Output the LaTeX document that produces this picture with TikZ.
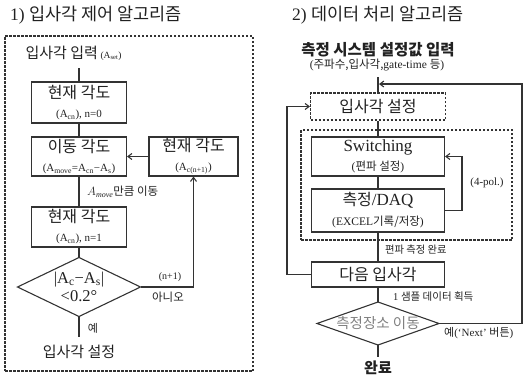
\documentclass[tikz,border=0pt]{standalone}
\usepackage{fontspec}
\setmainfont{Liberation Serif}
\newfontfamily\kr{Noto Sans CJK KR}
\usetikzlibrary{shapes.geometric,arrows.meta}
\definecolor{lc}{gray}{0.2}
\definecolor{tc}{gray}{0.13}
\newcommand\fs[1]{\fontsize{#1}{#1}\selectfont}
\begin{document}
\begin{tikzpicture}[x=1pt,y=-1pt,
  ln/.style={draw=lc, line width=1.1pt},
  arr/.style={ln, -{Straight Barb[length=4pt,width=6pt]}},
  box/.style={draw=lc, line width=1.1pt, rectangle, inner sep=0pt, align=center, text=tc,
              font=\fs{16}},
  dbox/.style={box, dash pattern=on 2.5pt off 1.5pt},
  dia/.style={diamond, draw=lc, line width=1.1pt, inner sep=0pt, outer sep=0pt},
  dtxt/.style={inner sep=0pt, align=center, text=tc},
  lbl/.style={inner sep=0pt, text=tc, font=\fs{10.5}},
  ttl/.style={inner sep=0pt, anchor=west, text=tc, font=\fs{17.5}}]
\useasboundingbox (0,0) rectangle (523,378);

% ---------- left panel ----------
\node[ttl] (t1) at (10,15) {1) {\kr 입사각 제어 알고리즘}};
\node[dbox, minimum width=248, minimum height=335] (frame1) at (129,203.5) {};
\node[lbl, anchor=west] (in1) at (22,53) {{\kr\fs{15} 입사각 입력} {\fs{9.5}(A\textsubscript{set})}};
\coordinate (c1) at (79,68);
\node[box, minimum width=95, minimum height=41] (b1) at (79,102.5)
  {{\kr 현재 각도}\\[3pt]{\fs{11}(A\textsubscript{cn}), n=0}};
\node[box, minimum width=95, minimum height=39] (b2) at (79,156.5)
  {{\kr 이동 각도}\\[3pt]{\fs{11}(A\textsubscript{move}=A\textsubscript{cn}−A\textsubscript{s})}};
\node[box, minimum width=89, minimum height=39] (b3) at (193.5,156.5)
  {{\kr 현재 각도}\\[3pt]{\fs{11}(A\textsubscript{c(n+1)})}};
\node[box, minimum width=95, minimum height=40] (b4) at (79,227)
  {{\kr 현재 각도}\\[3pt]{\fs{11}(A\textsubscript{cn}), n=1}};
\node[dia, minimum width=123, minimum height=59] (d1) at (79,287) {};
\node[dtxt, font=\fs{16.5}] (d1t) at (79,287)
  {|A\textsubscript{c}−A\textsubscript{s}|\\[2pt]<0.2°};
\coordinate (e1) at (79,337);
\node[inner sep=0pt, text=tc, font=\fs{15}\kr] (o1) at (79,352) {입사각 설정};

\draw[ln] (c1) -- (b1);
\draw[ln] (b1) -- (b2);
\draw[arr] (b3) -- (b2);
\draw[ln] (b2) -- (b4);
\draw[ln] (b4) -- (d1.north);
\draw[arr] (d1.east) -| (b3.south);
\draw[ln] (d1.south) -- (e1);

\node[lbl, anchor=west] (l1) at (87,192) {{\fs{12}$A_{\mathit{move}}$}{\kr\fs{11.5}만큼 이동}};
\node[lbl, font=\fs{10}] (l2) at (170,277) {(n+1)};
\node[lbl, font=\fs{11.5}\kr] (l3) at (168,297) {아니오};
\node[lbl, font=\fs{11}\kr] (l4) at (93,328) {예};

% ---------- right panel ----------
\node[ttl] (t2) at (292,15) {2) {\kr 데이터 처리 알고리즘}};
\node[inner sep=0pt, text=tc, font=\fs{15.5}\kr\bfseries] (in2) at (378,50) {측정 시스템 설정값 입력};
\node[lbl, font=\fs{11.5}] (in2b) at (377,65) {({\kr 주파수,입사각,}gate-time {\kr 등})};
\coordinate (c2) at (378,77);
\node[dbox, minimum width=135, minimum height=27] (s1) at (378,106.5) {\kr 입사각 설정};
\node[dbox, minimum width=211, minimum height=110] (frame2) at (406.5,185) {};
\node[box, minimum width=133, minimum height=39, font=\fs{17}] (sw) at (378,156.5)
  {Switching\\[2pt]{\fs{11.5}({\kr 편파 설정})}};
\node[box, minimum width=133, minimum height=43, font=\fs{17}] (daq) at (378,210.5)
  {{\kr\fs{16}측정}/DAQ\\[3pt]{\fs{11.5}(EXCEL{\kr 기록/저장})}};
\node[box, minimum width=133, minimum height=25] (nx) at (378,274.5) {\kr 다음 입사각};
\node[dia, minimum width=122, minimum height=43] (d2) at (378,323.5) {};
\node[dtxt, font=\fs{14.5}\kr, text=gray] (d2t) at (378,323.5) {측정장소 이동};
\coordinate (e2) at (378,357);
\node[inner sep=0pt, anchor=north, text=tc, font=\fs{15}\kr\bfseries] (done) at (378,361) {완료};

\coordinate (f1) at (462,210.5);
\coordinate (f2) at (287,274.5);
\coordinate (f3) at (522,323.5);
\coordinate (f4) at (379,84);

\draw[ln] (c2) -- (s1);
\draw[ln] (s1) -- (sw);
\draw[ln] (sw) -- (daq);
\draw[ln] (daq) -- (nx);
\draw[ln] (nx) -- (d2.north);
\draw[ln] (d2.south) -- (e2);
\draw[arr] (daq.east) -- (f1) |- (sw.east);
\draw[arr] (nx.west) -- (f2) |- (s1.west);
\draw[arr] (d2.east) -- (f3) |- (f4);

\node[lbl, font=\fs{11}] (l5) at (487,183) {(4-pol.)};
\node[lbl, anchor=west, font=\fs{10.3}\kr] (l6) at (385,250) {편파 측정 완료};
\node[lbl, anchor=west] (l7) at (393,297) {1 {\kr 샘플 데이터 획득}};
\node[lbl, anchor=west, font=\fs{11}] (l8) at (444,333) {{\kr 예}(‘Next’ {\kr 버튼})};
\end{tikzpicture}
\end{document}
